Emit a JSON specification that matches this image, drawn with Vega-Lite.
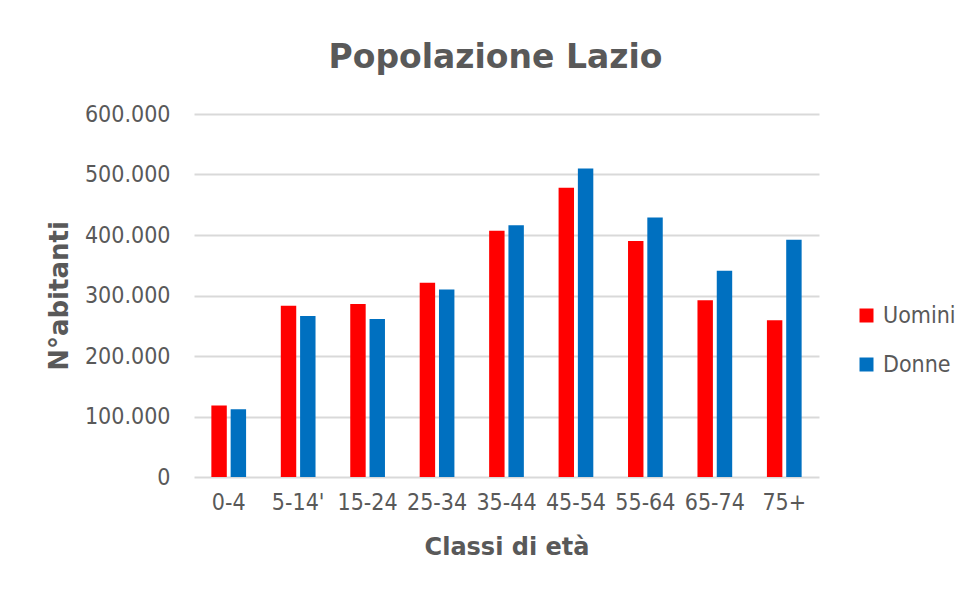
{
  "$schema": "https://vega.github.io/schema/vega-lite/v6.json",
  "width": 625,
  "height": 363,
  "autosize": "none",
  "padding": {"left": 194, "top": 114, "right": 149, "bottom": 113},
  "background": "white",
  "title": {
    "text": "Popolazione Lazio",
    "font": "DejaVu Sans",
    "fontSize": 33,
    "fontWeight": "bold",
    "color": "#595959",
    "anchor": "middle",
    "dx": -11,
    "offset": 28
  },
  "data": {
    "values": [
      {"classe": "0-4", "sesso": "Uomini", "abitanti": 118000},
      {"classe": "0-4", "sesso": "Donne", "abitanti": 112000},
      {"classe": "5-14'", "sesso": "Uomini", "abitanti": 283000},
      {"classe": "5-14'", "sesso": "Donne", "abitanti": 266000},
      {"classe": "15-24", "sesso": "Uomini", "abitanti": 286000},
      {"classe": "15-24", "sesso": "Donne", "abitanti": 261000},
      {"classe": "25-34", "sesso": "Uomini", "abitanti": 321000},
      {"classe": "25-34", "sesso": "Donne", "abitanti": 310000},
      {"classe": "35-44", "sesso": "Uomini", "abitanti": 407000},
      {"classe": "35-44", "sesso": "Donne", "abitanti": 416000},
      {"classe": "45-54", "sesso": "Uomini", "abitanti": 478000},
      {"classe": "45-54", "sesso": "Donne", "abitanti": 510000},
      {"classe": "55-64", "sesso": "Uomini", "abitanti": 390000},
      {"classe": "55-64", "sesso": "Donne", "abitanti": 429000},
      {"classe": "65-74", "sesso": "Uomini", "abitanti": 292000},
      {"classe": "65-74", "sesso": "Donne", "abitanti": 341000},
      {"classe": "75+", "sesso": "Uomini", "abitanti": 259000},
      {"classe": "75+", "sesso": "Donne", "abitanti": 392000}
    ]
  },
  "mark": {"type": "bar"},
  "encoding": {
    "x": {
      "field": "classe",
      "type": "nominal",
      "sort": ["0-4", "5-14'", "15-24", "25-34", "35-44", "45-54", "55-64", "65-74", "75+"],
      "scale": {"paddingInner": 0.5, "paddingOuter": 0.25},
      "axis": {
        "title": "Classi di età",
        "labelAngle": 0,
        "domain": false,
        "ticks": false,
        "labelPadding": 14,
        "titlePadding": 21
      }
    },
    "xOffset": {
      "field": "sesso",
      "type": "nominal",
      "sort": ["Uomini", "Donne"],
      "scale": {"paddingInner": 0.2, "paddingOuter": 0}
    },
    "y": {
      "field": "abitanti",
      "type": "quantitative",
      "scale": {"domain": [0, 600000], "nice": false},
      "axis": {
        "title": "N°abitanti",
        "values": [0, 100000, 200000, 300000, 400000, 500000, 600000],
        "labelExpr": "replace(format(datum.value, ','), ',', '.')",
        "domain": false,
        "ticks": false,
        "labelPadding": 24,
        "titlePadding": 12
      }
    },
    "color": {
      "field": "sesso",
      "type": "nominal",
      "sort": ["Uomini", "Donne"],
      "scale": {"domain": ["Uomini", "Donne"], "range": ["#FF0000", "#0070C0"]},
      "legend": {
        "title": null,
        "orient": "none",
        "legendX": 661,
        "legendY": 190,
        "symbolType": "square",
        "symbolSize": 196,
        "symbolStrokeWidth": 0,
        "rowPadding": 25,
        "labelOffset": 5
      }
    }
  },
  "config": {
    "view": {"stroke": null},
    "font": "DejaVu Sans Condensed",
    "axis": {
      "labelFont": "DejaVu Sans Condensed",
      "labelFontSize": 23,
      "labelColor": "#595959",
      "titleFont": "DejaVu Sans",
      "titleFontSize": 24,
      "titleFontWeight": "bold",
      "titleColor": "#595959",
      "gridColor": "#d9d9d9",
      "gridWidth": 2
    },
    "axisY": {"titleFontSize": 26},
    "legend": {
      "labelFont": "DejaVu Sans Condensed",
      "labelFontSize": 23,
      "labelColor": "#595959"
    }
  }
}
